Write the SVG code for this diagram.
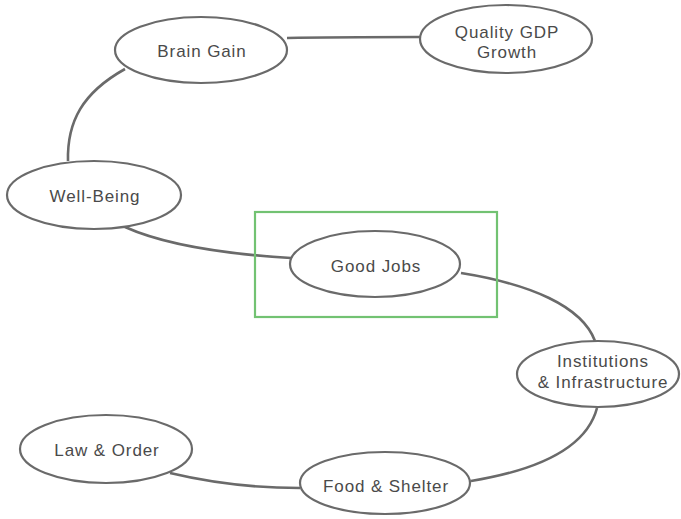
<svg xmlns="http://www.w3.org/2000/svg" width="681" height="519" viewBox="0 0 681 519">
  <style>
    .node { fill: #ffffff; stroke: #6a6a6a; stroke-width: 2.2; }
    .link { fill: none; stroke: #6a6a6a; stroke-width: 2.6; }
    .label { font-family: "Liberation Sans", Arial, sans-serif; font-size: 17px; letter-spacing: 0.9px; fill: #4a4a4a; text-anchor: middle; }
    .focus { fill: none; stroke: #72c272; stroke-width: 2.2; }
  </style>
  <rect width="681" height="519" fill="#ffffff"/>

  <!-- connectors along the path -->
  <g id="connectors">
    <path class="link" d="M287,38 C330,37 380,37 420,37"/>
    <path class="link" d="M125,69 C82,93 67,122 68,161"/>
    <path class="link" d="M125,227 C165,245 225,254 291,258"/>
    <path class="link" d="M461,273 C530,284 582,306 595,341"/>
    <path class="link" d="M597,408 C586,450 532,471 471,481"/>
    <path class="link" d="M170,473 C212,483 252,488 300,488"/>
  </g>

  <!-- highlight frame -->
  <rect class="focus" x="255" y="212" width="242" height="105"/>

  <g id="brain-gain">
    <ellipse class="node" cx="201" cy="50" rx="86" ry="33"/>
    <text class="label" x="202" y="57">Brain Gain</text>
  </g>
  <g id="quality-gdp-growth">
    <ellipse class="node" cx="506" cy="39" rx="86" ry="34"/>
    <text class="label" x="507" y="38">Quality GDP</text>
    <text class="label" x="507" y="58">Growth</text>
  </g>
  <g id="well-being">
    <ellipse class="node" cx="94" cy="195" rx="87" ry="34"/>
    <text class="label" x="95" y="202">Well-Being</text>
  </g>
  <g id="good-jobs">
    <ellipse class="node" cx="375" cy="264" rx="85" ry="33"/>
    <text class="label" x="376" y="272">Good Jobs</text>
  </g>
  <g id="institutions-infrastructure">
    <ellipse class="node" cx="598" cy="374" rx="81" ry="33"/>
    <text class="label" x="603" y="367">Institutions</text>
    <text class="label" x="603" y="388">&amp; Infrastructure</text>
  </g>
  <g id="food-shelter">
    <ellipse class="node" cx="385" cy="483" rx="85" ry="31"/>
    <text class="label" x="386" y="492">Food &amp; Shelter</text>
  </g>
  <g id="law-order">
    <ellipse class="node" cx="106" cy="449" rx="86" ry="34"/>
    <text class="label" x="107" y="456">Law &amp; Order</text>
  </g>
</svg>
